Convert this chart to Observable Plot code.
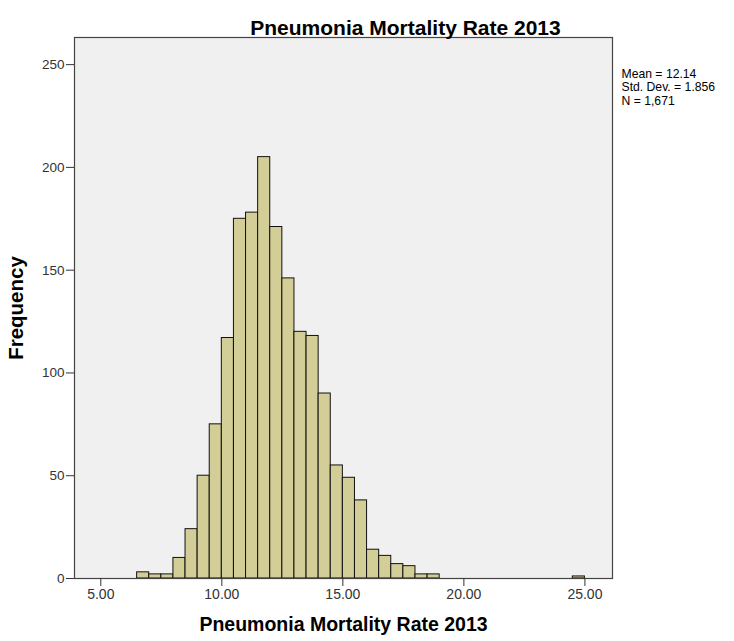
<!DOCTYPE html>
<html>
<head>
<meta charset="utf-8">
<script src="https://cdn.jsdelivr.net/npm/d3@7"></script>
<script src="https://cdn.jsdelivr.net/npm/@observablehq/plot@0.6"></script>
<style>
  body { margin: 0; background: #fff; }
</style>
</head>
<body>
<div id="chart"></div>
<script>
// Histogram bins (lower edge, upper edge) and frequencies
const binStart = [6.5, 7.0, 7.5, 8.0, 8.5, 9.0, 9.5, 10.0, 10.5, 11.0, 11.5, 12.0, 12.5, 13.0, 13.5, 14.0, 14.5, 15.0, 15.5, 16.0, 16.5, 17.0, 17.5, 18.0, 18.5, 24.5];
const binEnd   = [7.0, 7.5, 8.0, 8.5, 9.0, 9.5, 10.0, 10.5, 11.0, 11.5, 12.0, 12.5, 13.0, 13.5, 14.0, 14.5, 15.0, 15.5, 16.0, 16.5, 17.0, 17.5, 18.0, 18.5, 19.0, 25.0];
const counts   = [3, 2, 2, 10, 24, 50, 75, 117, 175, 178, 205, 171, 146, 120, 118, 90, 55, 49, 38, 14, 11, 7, 6, 2, 2, 1];
const xTicks = [5, 10, 15, 20, 25];
const yTicks = [0, 50, 100, 150, 200, 250];
const titleText = "Pneumonia Mortality Rate 2013";
const xLabel = "Pneumonia Mortality Rate 2013";
const yLabel = "Frequency";
const statsLines = ["Mean = 12.14", "Std. Dev. = 1.856", "N = 1,671"];

const bins = counts.map((c, i) => ({x1: binStart[i], x2: binEnd[i], y: c}));

const chart = Plot.plot({
  width: 734,
  height: 641,
  marginLeft: 74,
  marginRight: 122,
  marginTop: 37,
  marginBottom: 63,
  style: {fontFamily: "'Liberation Sans', Arial, sans-serif", fontSize: "13px", color: "#222", background: "#fff"},
  x: {domain: [3.913, 26.14]},
  y: {domain: [0, 263.2]},
  marks: [
    Plot.frame({fill: "#f0f0f0", stroke: null}),
    Plot.rectY(bins, {x1: "x1", x2: "x2", y: "y", fill: "#d3ce97", stroke: "#111", strokeWidth: 1, inset: 0}),
    Plot.frame({stroke: "#444", strokeWidth: 1.2}),
    Plot.axisX({ticks: xTicks, tickFormat: d3.format(".2f"), tickSize: 8, tickPadding: 3, label: null, fontSize: 14, color: "#333"}),
    Plot.axisY({ticks: yTicks, tickFormat: d => String(d), tickSize: 8, tickPadding: 2, label: null, fontSize: 13.5, color: "#333"}),
    Plot.text([titleText], {text: d => d, frameAnchor: "top", dx: 62, dy: -17, fontSize: 21, fontWeight: "bold", fill: "#000"}),
    Plot.text([xLabel], {text: d => d, frameAnchor: "bottom", dy: 52, fontSize: 19.5, fontWeight: "bold", fill: "#000"}),
    Plot.text([yLabel], {text: d => d, frameAnchor: "left", dx: -58, rotate: -90, textAnchor: "middle", fontSize: 20.5, fontWeight: "bold", fill: "#000"}),
    Plot.text([statsLines.join("\n")], {text: d => d, frameAnchor: "top-right", dx: 9, dy: 31, textAnchor: "start", lineAnchor: "top", lineHeight: 1.1, fontSize: 12.2, fill: "#000"})
  ]
});
document.getElementById("chart").appendChild(chart);
</script>
</body>
</html>
